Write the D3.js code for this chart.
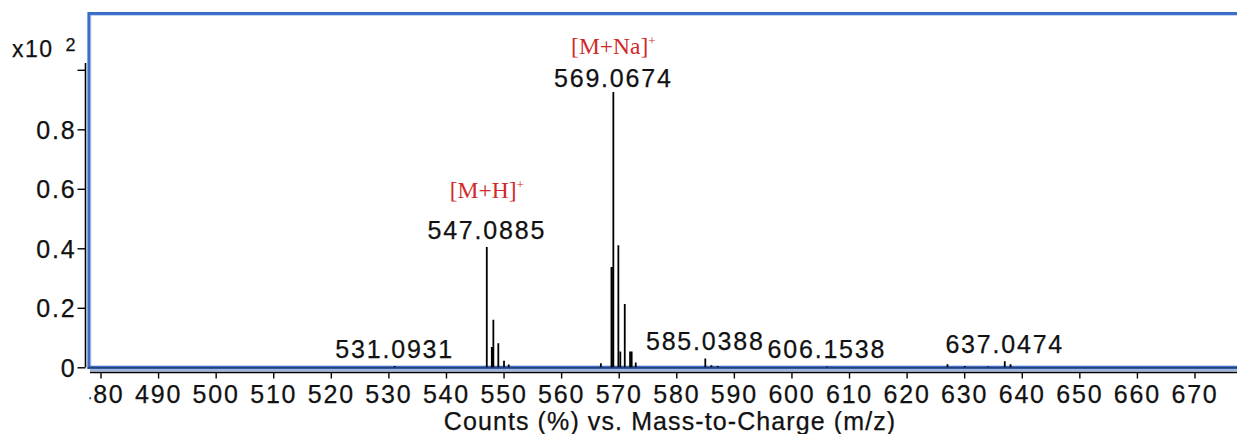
<!DOCTYPE html>
<html>
<head>
<meta charset="utf-8">
<script src="https://cdn.jsdelivr.net/npm/d3@7"></script>
<style>
  html, body { margin: 0; padding: 0; background: #fff; overflow: hidden; }
  svg { display: block; overflow: hidden; }
  .num { font-family: "Liberation Sans", Arial, sans-serif; font-size: 25px; letter-spacing: 1.8px; fill: #111; stroke: #111; stroke-width: 0.25px; }
  .ann { font-family: "Liberation Serif", "Times New Roman", serif; font-size: 23.5px; fill: #d02a2a; }
</style>
</head>
<body>
<svg id="chart" width="1277" height="434"></svg>
<script>
// Centroided peaks of the spectrum: m/z and relative abundance (x10^2 %)
const peakMz = [
  531.0931,
  547.0885, 547.96, 548.02, 548.23, 549.09, 550.08, 550.90,
  566.90, 568.74, 568.82, 569.0674, 569.94, 570.28, 571.05, 571.97, 572.25, 572.96,
  585.0388, 586.10, 587.20,
  606.1538,
  627.10, 630.10, 634.10, 637.0474, 638.05
];
const peakHeight = [
  0.004,
  0.404, 0.068, 0.068, 0.160, 0.081, 0.022, 0.009,
  0.014, 0.337, 0.337, 1.000, 0.410, 0.053, 0.213, 0.053, 0.053, 0.016,
  0.030, 0.007, 0.004,
  0.003,
  0.010, 0.004, 0.003, 0.020, 0.010
];

// Peaks carrying an m/z label, and the two ion assignments
const labelMz = [531.0931, 547.0885, 569.0674, 585.0388, 606.1538, 637.0474];
const ionMz = [547.0885, 569.0674];
const ionName = ["[M+H]", "[M+Na]"];
const ionCharge = ["+", "+"];

// Axis ticks
const xTicks = [480, 490, 500, 510, 520, 530, 540, 550, 560, 570, 580, 590, 600, 610, 620, 630, 640, 650, 660, 670];
const yTicks = [0, 0.2, 0.4, 0.6, 0.8, 1.0];
const yTickLabels = ["0", "0.2", "0.4", "0.6", "0.8", ""];
const yExponent = "2";
const xTitle = "Counts (%) vs. Mass-to-Charge (m/z)";

const svg = d3.select("#chart");
const W = 1237;

// Plot frame geometry (the frame runs on past the right edge of the page)
const frame = { left: 89, top: 13.5, bottom: 367.3 };

const x = d3.scaleLinear().domain([480, 670]).range([100.5, 1194.5]);
const y = d3.scaleLinear().domain([0, 1]).range([367.3, 69.8]);

const defs = svg.append("defs");
defs.append("clipPath").attr("id", "plotClip")
  .append("rect").attr("x", frame.left + 1.5).attr("y", frame.top + 1.5)
  .attr("width", W).attr("height", frame.bottom - frame.top - 1.2);
defs.append("clipPath").attr("id", "tickClip")
  .append("rect").attr("x", frame.left + 0.5).attr("y", 360).attr("width", W).attr("height", 60);

// ---- y axis (outside the frame, ticks pointing left) ----
const yAxis = d3.axisLeft(y).tickValues(yTicks).tickSize(8).tickPadding(1)
  .tickFormat((d, i) => yTickLabels[i]);
const gy = svg.append("g").attr("transform", "translate(85.5,0)").call(yAxis);
gy.select(".domain").attr("d", `M0,63V${y(0)}`).attr("stroke", "#000").attr("stroke-width", 1.6);
gy.selectAll(".tick line").attr("stroke", "#000").attr("stroke-width", 1.4);
gy.selectAll(".tick text").attr("class", "num").attr("fill", "#111")
  .attr("dy", "0.36em");

// axis multiplier
svg.append("text").attr("class", "num").attr("x", 12).attr("y", 57)
  .style("font-size", "23px").style("letter-spacing", "1.5px").text("x10");
svg.append("text").attr("class", "num").attr("x", 65.5).attr("y", 51)
  .style("font-size", "18px").style("letter-spacing", "0").text(yExponent);

// ---- frame: top, left and bottom edges ----
const R = W + 40;
svg.append("path")
  .attr("d", `M${R},${frame.top}H${frame.left}V${frame.bottom}H${R}`)
  .attr("fill", "none").attr("stroke", "#3a6cc8").attr("stroke-width", 3.2);
svg.append("path")
  .attr("d", `M${R},${frame.top + 1.9}H${frame.left + 1.9}V${frame.bottom - 1.9}`)
  .attr("fill", "none").attr("stroke", "#a9c1ea").attr("stroke-width", 0.8);
// darker lower edge and light band above the x axis
svg.append("line").attr("x1", frame.left - 1.5).attr("x2", R)
  .attr("y1", frame.bottom + 0.6).attr("y2", frame.bottom + 0.6)
  .attr("stroke", "#24427c").attr("stroke-width", 1.8);
svg.append("rect").attr("x", frame.left + 1).attr("y", frame.bottom + 1.6)
  .attr("width", R).attr("height", 2.6).attr("fill", "#9db5df");

// ---- x axis (tick labels clipped at the frame's left edge) ----
const xAxis = d3.axisBottom(x).tickValues(xTicks).tickSize(6).tickPadding(7)
  .tickFormat(d3.format("d"));
const gx = svg.append("g").attr("clip-path", "url(#tickClip)")
  .append("g").attr("transform", `translate(0,${frame.bottom + 5.2})`)
  .call(xAxis);
gx.select(".domain").attr("d", `M${frame.left + 1},0H${R}`).attr("stroke", "#000").attr("stroke-width", 1.5);
gx.selectAll(".tick line").attr("stroke", "#000").attr("stroke-width", 1.4);
gx.selectAll(".tick text").attr("class", "num").attr("fill", "#111").attr("dy", "0.71em");

svg.append("text").attr("class", "num")
  .attr("x", 670).attr("y", 430).attr("text-anchor", "middle")
  .style("letter-spacing", "1.1px")
  .text(xTitle);

// ---- peaks ----
const peaks = peakMz.map((m, i) => ({ mz: m, h: peakHeight[i] }));
svg.append("g").attr("clip-path", "url(#plotClip)")
  .selectAll("line").data(peaks).join("line")
  .attr("x1", d => x(d.mz)).attr("x2", d => x(d.mz))
  .attr("y1", y(0)).attr("y2", d => y(d.h))
  .attr("stroke", "#000").attr("stroke-width", 1.8);

// ---- peak labels (stacked labels kept inside the frame) ----
const heightAt = m => peaks.find(p => p.mz === m).h;
const numBase = m => Math.max(y(heightAt(m)) - 8, frame.top + 73.5);
const lbl = svg.append("g");
labelMz.forEach(m => {
  const g = lbl.append("g");
  const t = g.append("text").attr("class", "num")
    .attr("x", x(m)).attr("y", numBase(m)).attr("text-anchor", "middle")
    .text(d3.format(".4f")(m));
  const b = t.node().getBBox();
  g.insert("rect", "text")
    .attr("x", b.x - 1).attr("y", b.y).attr("width", b.width + 2).attr("height", b.height)
    .attr("fill", "#fff").attr("stroke", "none");
});

// ion assignments above their peak labels
ionMz.forEach((m, i) => {
  const base = Math.max(numBase(m) - 41, frame.top + 40);
  const t = svg.append("text").attr("class", "ann")
    .attr("x", x(m)).attr("y", base).attr("text-anchor", "middle");
  t.append("tspan").text(ionName[i]);
  t.append("tspan").attr("dy", -9).style("font-size", "13px").text(ionCharge[i]);
});
</script>
</body>
</html>
